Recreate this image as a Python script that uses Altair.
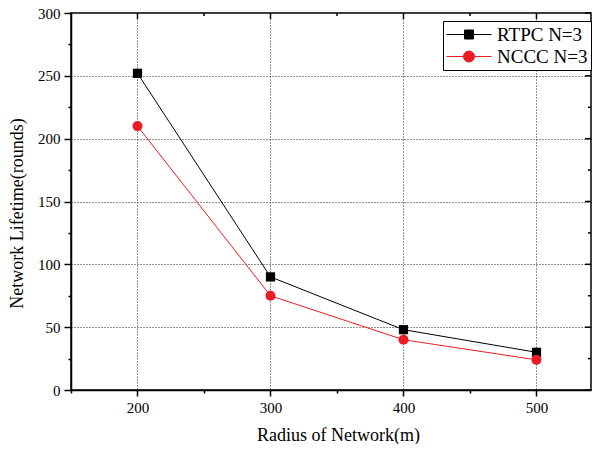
import altair as alt
import pandas as pd

radius = [200, 300, 400, 500]
rtpc = [252, 90, 48, 30]
nccc = [210, 75, 40, 24]
series_names = ["RTPC N=3", "NCCC N=3"]
series_colors = ["#000000", "#ed1c24"]
x_ticks = [150, 200, 250, 300, 350, 400, 450, 500, 550]
y_ticks = [0, 25, 50, 75, 100, 125, 150, 175, 200, 225, 250, 275, 300]

df = pd.DataFrame({
    "radius": radius + radius,
    "lifetime": rtpc + nccc,
    "series": [series_names[0]] * len(radius) + [series_names[1]] * len(radius),
})
xt = pd.DataFrame({"radius": x_ticks})
yt = pd.DataFrame({"lifetime": y_ticks})

W, H = 520, 377
FONT = "Liberation Serif"

x_scale = alt.Scale(domain=[150, 541], nice=False, zero=False)
y_scale = alt.Scale(domain=[0, 300], nice=False, zero=False)

x_axis = alt.Axis(
    values=x_ticks[:-1],
    labelExpr="datum.value % 100 == 0 ? datum.label : ''",
    labelOverlap=False, labelFlush=False,
    tickSize={"condition": {"test": "datum.value % 100 == 0", "value": 6}, "value": 3},
    grid=True,
    gridOpacity={"condition": {"test": "datum.value % 100 == 0 && datum.value > 150", "value": 1}, "value": 0},
    gridDash=[1, 2], gridColor="#222222", gridWidth=1,
    domainColor="black", domainWidth=1.5, tickColor="black", tickWidth=1.5,
    labelFont=FONT, labelFontSize=15, labelColor="black", labelPadding=4,
    title="Radius of Network(m)", titleFont=FONT, titleFontSize=18,
    titleFontWeight="normal", titleColor="black", titlePadding=11, titleX=267,
)
y_axis = alt.Axis(
    values=y_ticks,
    labelExpr="datum.value % 50 == 0 ? datum.label : ''",
    labelOverlap=False, labelFlush=False,
    tickSize={"condition": {"test": "datum.value % 50 == 0", "value": 7}, "value": 3},
    grid=True,
    gridOpacity={"condition": {"test": "datum.value % 50 == 0 && datum.value > 0 && datum.value < 300", "value": 1}, "value": 0},
    gridDash=[1, 2], gridColor="#222222", gridWidth=1,
    domainColor="black", domainWidth=1.5, tickColor="black", tickWidth=1.5,
    labelFont=FONT, labelFontSize=15, labelColor="black", labelPadding=4,
    title="Network Lifetime(rounds)", titleFont=FONT, titleFontSize=18,
    titleFontWeight="normal", titleColor="black", titlePadding=11, titleY=200,
)

base = alt.Chart(df)
X = alt.X("radius:Q", scale=x_scale, axis=x_axis)
Y = alt.Y("lifetime:Q", scale=y_scale, axis=y_axis)

layers = []
for name, col in zip(series_names, series_colors):
    layers.append(
        base.transform_filter(alt.datum.series == name)
        .mark_line(color=col, strokeWidth=1)
        .encode(x=X, y=Y)
    )
layers.append(
    base.transform_filter(alt.datum.series == series_names[0])
    .mark_square(color=series_colors[0], size=85, opacity=1)
    .encode(x=X, y=Y)
)
layers.append(
    base.transform_filter(alt.datum.series == series_names[1])
    .mark_circle(color=series_colors[1], size=100, opacity=1)
    .encode(x=X, y=Y)
)

# mirror ticks on top and right (inward)
top_major = alt.Chart(xt).transform_filter("datum.radius % 100 == 0").mark_rule(color="black", strokeWidth=1.5, clip=True).encode(
    x=X, y=alt.value(0), y2=alt.value(6))
top_minor = alt.Chart(xt).transform_filter("datum.radius % 100 != 0").mark_rule(color="black", strokeWidth=1.5, clip=True).encode(
    x=X, y=alt.value(0), y2=alt.value(3))
right_major = alt.Chart(yt).transform_filter("datum.lifetime % 50 == 0").mark_rule(color="black", strokeWidth=1.5).encode(
    y=Y, x=alt.value(W), x2=alt.value(W - 6))
right_minor = alt.Chart(yt).transform_filter("datum.lifetime % 50 != 0").mark_rule(color="black", strokeWidth=1.5).encode(
    y=Y, x=alt.value(W), x2=alt.value(W - 3))
layers += [top_major, top_minor, right_major, right_minor]

# legend layer (marks clipped away; only the legend shows)
paths = [
    "M-1,0L3.5,0M0.8,-0.45H1.7V0.45H0.8Z",
    "M-1,0L3.5,0M1.8,0A0.55,0.55,0,1,1,0.7,0A0.55,0.55,0,1,1,1.8,0Z",
]
color_scale = alt.Scale(domain=series_names, range=series_colors)
leg = alt.Legend(
    orient="none", legendX=372, legendY=8, title=None,
    strokeColor="black", fillColor="white", padding=3,
    labelFont=FONT, labelFontSize=19, labelColor="black", labelOffset=30,
    symbolSize=400, symbolStrokeWidth=1, symbolOpacity=1, rowPadding=1,
)
legend_layer = alt.Chart(df).mark_point(filled=True, clip=True, opacity=1).encode(
    x=alt.value(-200), y=alt.value(-200),
    fill=alt.Fill("series:N", scale=color_scale, legend=leg),
    stroke=alt.Stroke("series:N", scale=color_scale, legend=leg),
    shape=alt.Shape("series:N", scale=alt.Scale(domain=series_names, range=paths), legend=leg),
)
layers.append(legend_layer)

chart = alt.layer(*layers).properties(
    width=W, height=H,
    autosize=alt.AutoSizeParams(type="none"),
    padding={"left": 63, "top": 5, "right": 1, "bottom": 54},
    background="white",
).configure_view(stroke="black", strokeWidth=1.5)

chart.save("out.html", embed_options={"renderer": "svg", "actions": False})
